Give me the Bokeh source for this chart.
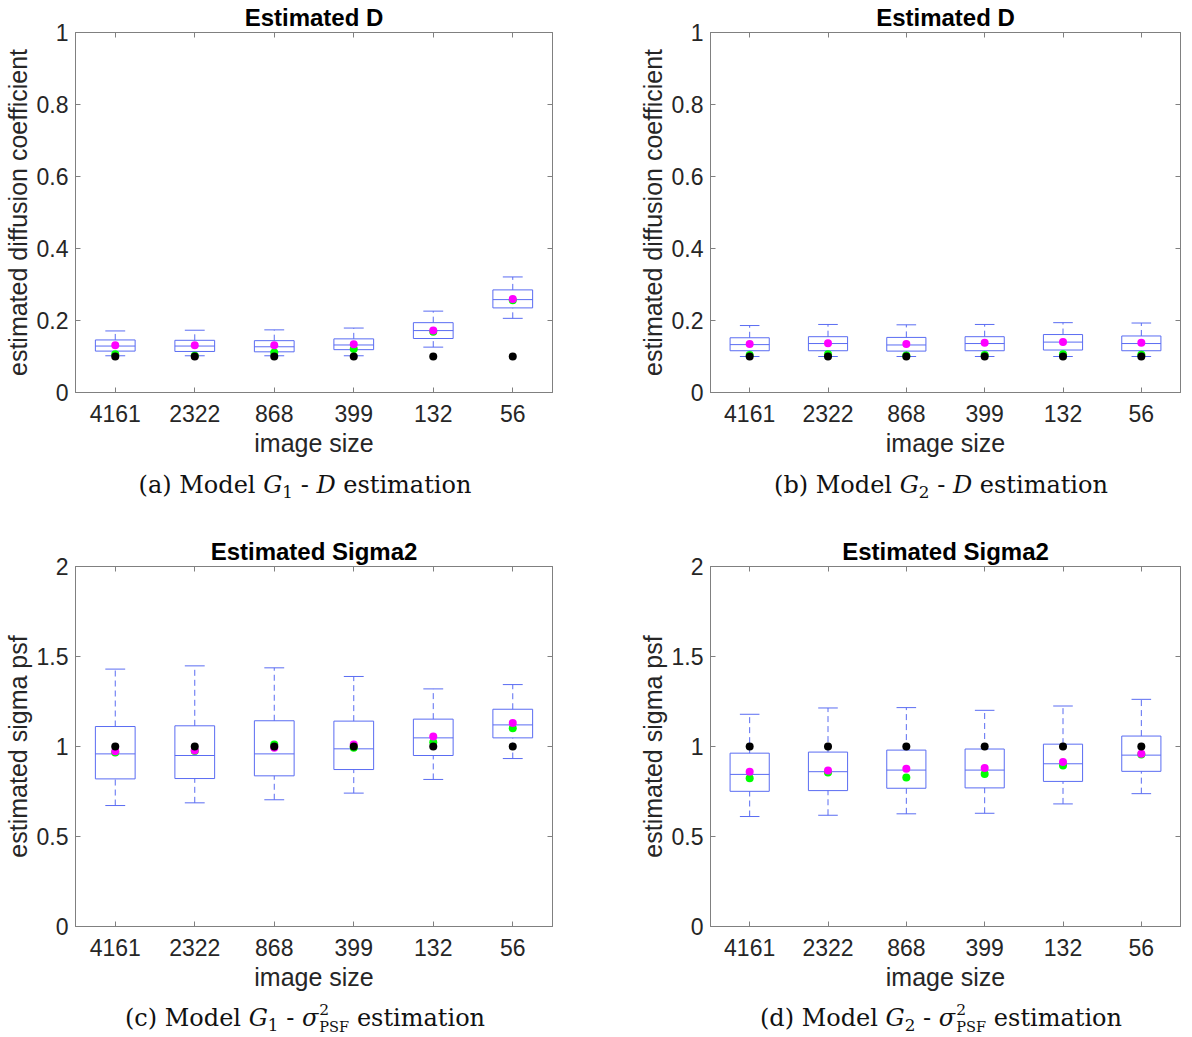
import numpy as np
from bokeh.plotting import figure
from bokeh.models import (ColumnDataSource, FixedTicker, LinearAxis, Range1d,
                          CustomJSTickFormatter, Div)
from bokeh.layouts import column, row
from bokeh.embed import file_html
from bokeh.resources import INLINE

# ---------------- data ----------------
image_sizes = ["4161", "2322", "868", "399", "132", "56"]

# (a) Model G1 - D estimation
a_whi = [0.171, 0.173, 0.174, 0.179, 0.226, 0.321]
a_q3 = [0.146, 0.145, 0.144, 0.149, 0.194, 0.285]
a_med = [0.129, 0.129, 0.127, 0.132, 0.172, 0.258]
a_q1 = [0.115, 0.114, 0.113, 0.119, 0.150, 0.235]
a_wlo = [0.102, 0.102, 0.102, 0.102, 0.126, 0.206]
a_mean = [0.131, 0.131, 0.131, 0.134, 0.172, 0.260]
a_green = [0.106, 0.102, 0.111, 0.121, 0.169, 0.256]
a_true = [0.1, 0.1, 0.1, 0.1, 0.1, 0.1]

# (b) Model G2 - D estimation
b_whi = [0.186, 0.189, 0.188, 0.189, 0.194, 0.193]
b_q3 = [0.152, 0.155, 0.153, 0.155, 0.161, 0.157]
b_med = [0.133, 0.136, 0.132, 0.136, 0.140, 0.136]
b_q1 = [0.116, 0.116, 0.115, 0.116, 0.118, 0.116]
b_wlo = [0.100, 0.100, 0.100, 0.100, 0.100, 0.100]
b_mean = [0.135, 0.137, 0.135, 0.138, 0.140, 0.138]
b_green = [0.104, 0.106, 0.103, 0.104, 0.106, 0.105]
b_true = [0.1, 0.1, 0.1, 0.1, 0.1, 0.1]

# (c) Model G1 - sigma2 PSF estimation
c_whi = [1.430, 1.448, 1.437, 1.389, 1.320, 1.344]
c_q3 = [1.111, 1.115, 1.143, 1.141, 1.152, 1.207]
c_med = [0.959, 0.950, 0.959, 0.987, 1.048, 1.120]
c_q1 = [0.820, 0.822, 0.837, 0.872, 0.950, 1.048]
c_wlo = [0.672, 0.687, 0.704, 0.741, 0.817, 0.933]
c_mean = [0.974, 0.978, 0.993, 1.011, 1.056, 1.130]
c_green = [0.967, 0.975, 1.011, 0.993, 1.024, 1.102]
c_true = [1.0, 1.0, 1.0, 1.0, 1.0, 1.0]

# (d) Model G2 - sigma2 PSF estimation
d_whi = [1.179, 1.214, 1.216, 1.201, 1.225, 1.262]
d_q3 = [0.963, 0.969, 0.980, 0.986, 1.013, 1.058]
d_med = [0.845, 0.860, 0.869, 0.869, 0.904, 0.952]
d_q1 = [0.751, 0.755, 0.768, 0.770, 0.806, 0.862]
d_wlo = [0.611, 0.618, 0.626, 0.629, 0.681, 0.738]
d_mean = [0.860, 0.867, 0.877, 0.880, 0.914, 0.960]
d_green = [0.823, 0.856, 0.828, 0.847, 0.895, 0.955]
d_true = [1.0, 1.0, 1.0, 1.0, 1.0, 1.0]

d_ticks = [0, 0.2, 0.4, 0.6, 0.8, 1]
s_ticks = [0, 0.5, 1, 1.5, 2]

# ---------------- style ----------------
BLUE = "#5a6cf2"
AXC = "#808080"
TXT = "#262626"
SANS = "Liberation Sans"
SERIF = "DejaVu Serif"


def panel(title, ylabel, ymax, yticks, whi, q3, med, q1, wlo, mean, green, true,
          fw, bl, br):
    pos = np.arange(1, len(image_sizes) + 1)
    half_box = 0.25
    half_cap = 0.125
    p = figure(frame_width=fw, frame_height=360, output_backend="svg",
               toolbar_location=None, x_range=Range1d(0.5, len(image_sizes) + 0.5),
               y_range=Range1d(0, ymax), min_border_left=bl, min_border_right=br,
               min_border_top=27, min_border_bottom=80,
               x_axis_type=None, y_axis_type=None)
    p.grid.visible = False
    p.outline_line_color = AXC
    p.outline_line_width = 1
    p.background_fill_color = "white"
    p.border_fill_color = "white"

    p.title.text = title
    p.title.align = "center"
    p.title.text_font = SANS
    p.title.text_font_size = "24px"
    p.title.text_font_style = "bold"
    p.title.text_color = "black"
    p.title.standoff = 3

    xlabels = {int(k): v for k, v in zip(pos, image_sizes)}
    yfmt = CustomJSTickFormatter(code="return String(tick);")
    blank = CustomJSTickFormatter(code="return '';")

    def style(ax):
        ax.axis_line_color = AXC
        ax.major_tick_line_color = AXC
        ax.major_tick_in = 5
        ax.major_tick_out = 0
        ax.minor_tick_line_color = None
        ax.major_label_text_font = SANS
        ax.major_label_text_font_size = "23px"
        ax.major_label_text_color = TXT
        ax.axis_label_text_font = SANS
        ax.axis_label_text_font_size = "25px"
        ax.axis_label_text_font_style = "normal"
        ax.axis_label_text_color = TXT

    xb = LinearAxis(ticker=FixedTicker(ticks=list(pos)), major_label_overrides=xlabels,
                    axis_label="image size")
    style(xb)
    xb.major_label_standoff = 12
    xb.axis_label_standoff = 4
    p.add_layout(xb, "below")

    xt = LinearAxis(ticker=FixedTicker(ticks=list(pos)), formatter=blank)
    style(xt)
    xt.major_label_standoff = 0
    p.add_layout(xt, "above")

    yl = LinearAxis(ticker=FixedTicker(ticks=yticks), formatter=yfmt, axis_label=ylabel)
    style(yl)
    yl.major_label_standoff = 7
    yl.axis_label_standoff = 2
    p.add_layout(yl, "left")

    yr = LinearAxis(ticker=FixedTicker(ticks=yticks), formatter=blank)
    style(yr)
    yr.major_label_standoff = 0
    p.add_layout(yr, "right")

    src = ColumnDataSource(dict(
        x=pos, x0=pos - half_box, x1=pos + half_box, c0=pos - half_cap, c1=pos + half_cap,
        whi=whi, q3=q3, med=med, q1=q1, wlo=wlo, mean=mean, green=green, true=true))

    p.segment(x0="x", x1="x", y0="q3", y1="whi", source=src, line_color=BLUE,
              line_width=1, line_dash="6 4")
    p.segment(x0="x", x1="x", y0="wlo", y1="q1", source=src, line_color=BLUE,
              line_width=1, line_dash="6 4")
    p.segment(x0="c0", x1="c1", y0="whi", y1="whi", source=src, line_color=BLUE, line_width=1)
    p.segment(x0="c0", x1="c1", y0="wlo", y1="wlo", source=src, line_color=BLUE, line_width=1)
    p.vbar(x="x", width=2 * half_box, bottom="q1", top="q3", source=src,
           fill_color=None, line_color=BLUE, line_width=1)
    p.segment(x0="x0", x1="x1", y0="med", y1="med", source=src, line_color=BLUE, line_width=1)

    p.scatter(x="x", y="green", source=src, size=8, fill_color="#00ff00", line_color=None)
    p.scatter(x="x", y="mean", source=src, size=8, fill_color="#ff00ff", line_color=None)
    p.scatter(x="x", y="true", source=src, size=8, fill_color="black", line_color=None)
    return p


WA, WB = 590, 586

pa = panel("Estimated D", "estimated diffusion coefficient", 1, d_ticks,
           a_whi, a_q3, a_med, a_q1, a_wlo, a_mean, a_green, a_true, 477, 69, 44)
pb = panel("Estimated D", "estimated diffusion coefficient", 1, d_ticks,
           b_whi, b_q3, b_med, b_q1, b_wlo, b_mean, b_green, b_true, 470, 114, 2)
pc = panel("Estimated Sigma2", "estimated sigma psf", 2, s_ticks,
           c_whi, c_q3, c_med, c_q1, c_wlo, c_mean, c_green, c_true, 477, 69, 44)
pd = panel("Estimated Sigma2", "estimated sigma psf", 2, s_ticks,
           d_whi, d_q3, d_med, d_q1, d_wlo, d_mean, d_green, d_true, 470, 114, 2)


def sub(t):
    return (f"<span style=\"position:relative;top:0.3em;font-size:0.7em\">{t}</span>")


SIG = ("<i>&sigma;</i><span style=\"position:relative;display:inline-block;width:31px;"
       "height:24px\">"
       "<span style=\"position:absolute;left:1px;top:1px;font-size:15.5px;"
       "line-height:1\">2</span>"
       "<span style=\"position:absolute;left:1px;top:18px;font-size:14.5px;"
       "line-height:1\">PSF</span>"
       "</span>")


def caption(html, width, height, pad_left, shift, lh):
    inner = (f"<div style=\"position:relative;top:{shift}px;width:{width - pad_left}px;"
             f"margin-left:{pad_left}px;"
             f"text-align:center;font-family:'{SERIF}';font-size:24px;line-height:{lh}px;"
             f"color:#111;white-space:nowrap\">{html}</div>")
    return Div(text=inner, width=width, height=height, margin=(0, 0, 0, 0))


ca = caption("(a) Model <i>G</i>" + sub("1") + " - <i>D</i> estimation", WA, 62, 20, 3, 20)
cb = caption("(b) Model <i>G</i>" + sub("2") + " - <i>D</i> estimation", WB, 62, 116, 3, 20)
cc = caption("(c) Model <i>G</i>" + sub("1") + " - " + SIG + " estimation", WA, 14, 20, -4, 14)
cd = caption("(d) Model <i>G</i>" + sub("2") + " - " + SIG + " estimation", WB, 14, 116, -4, 14)

layout = column(row(pa, pb), row(ca, cb), row(pc, pd), row(cc, cd))

open("out.html", "w").write(file_html(layout, INLINE))
